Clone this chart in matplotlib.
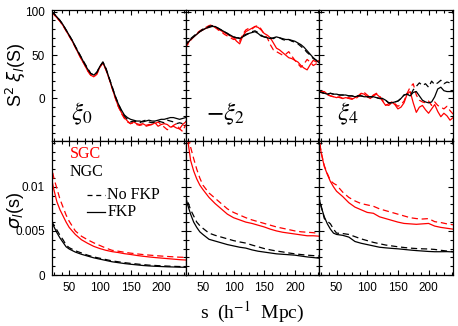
import matplotlib.pyplot as plt
from matplotlib.ticker import MultipleLocator

plt.rcParams['font.family'] = ['Liberation Sans', 'DejaVu Sans']

# separation grid for the multipoles (h^-1 Mpc)
s_top = [20, 25, 30, 35, 40, 45, 50, 55, 60, 65, 70, 75, 80, 85, 90, 95, 100,
         105, 110, 115, 120, 125, 130, 135, 140, 145, 150, 155, 160, 165, 170,
         175, 180, 185, 190, 195, 200, 205, 210, 215, 220, 225, 230, 235, 240]

# s^2 xi_0
xi0_ngc_fkp = [100, 98, 94, 90, 85, 79, 73, 67, 60, 53, 47, 40, 34, 29, 27, 30, 37,
               42, 34, 24, 13, 3, -6, -13, -19, -22, -24, -25, -26, -26, -27,
               -26, -25, -26, -26, -25, -24, -24, -23, -22, -22, -23, -24, -23, -22]
xi0_ngc_nofkp = [100, 98, 94, 90, 85, 79, 73, 67, 60, 54, 47, 41, 35, 29, 27, 30, 37,
                 42, 35, 24, 14, 3, -6, -14, -20, -24, -27, -26, -27, -28, -26,
                 -25, -27, -28, -27, -26, -27, -28, -25, -26, -27, -29, -28, -29, -26]
xi0_sgc_fkp = [100, 97, 93, 89, 84, 78, 72, 66, 59, 52, 45, 39, 32, 27, 25, 28, 36,
               41, 33, 23, 12, 1, -9, -16, -22, -26, -29, -27, -29, -30, -29,
               -31, -30, -30, -28, -32, -30, -29, -30, -33, -32, -34, -35, -30, -27]
xi0_sgc_nofkp = [100, 97, 93, 89, 84, 78, 72, 66, 59, 52, 45, 39, 32, 27, 25, 28, 36,
                 41, 33, 23, 12, 1, -9, -17, -23, -27, -29, -28, -30, -31, -30,
                 -32, -31, -30, -29, -27, -30, -33, -36, -34, -31, -29, -35, -38, -30]

# -s^2 xi_2
xi2_ngc_fkp = [60, 64, 68, 71, 74, 77, 79, 81, 82, 83, 83, 81, 79, 77, 75, 73, 71,
               70, 69, 71, 73, 75, 76, 77, 75, 72, 71, 70, 69, 70, 71,
               70, 69, 68, 68, 67, 66, 64, 62, 59, 55, 51, 47, 44, 41]
xi2_ngc_nofkp = [60, 65, 69, 72, 75, 77, 80, 81, 83, 84, 83, 81, 79, 77, 75, 72, 71,
                 70, 70, 72, 74, 75, 77, 78, 76, 73, 71, 70, 70, 69, 71,
                 70, 68, 67, 68, 66, 65, 63, 60, 57, 53, 50, 46, 44, 40]
xi2_sgc_fkp = [58, 63, 68, 71, 74, 77, 79, 81, 82, 84, 82, 80, 78, 76, 74, 72, 70,
               66, 63, 72, 77, 79, 81, 83, 82, 79, 75, 73, 70, 64, 58,
               56, 53, 50, 47, 46, 44, 42, 38, 35, 33, 39, 44, 42, 44]
xi2_sgc_nofkp = [58, 62, 67, 71, 75, 78, 80, 82, 84, 85, 82, 79, 77, 74, 72, 70, 68,
                 69, 66, 74, 79, 81, 80, 83, 84, 80, 74, 70, 62, 56, 54,
                 52, 50, 51, 54, 49, 44, 40, 36, 40, 45, 42, 38, 40, 43]

# s^2 xi_4
xi4_ngc_fkp = [8, 7, 6, 5, 6, 5, 5, 4, 4, 4, 3, 3, 2, 3, 3, 2, 2,
               2, 2, 1, 0, 0, -2, -5, -5, -4, -3, 0, 4, 5, 3,
               7, 8, 3, -2, -4, -5, -4, 2, 11, 13, 9, 8, 8, 8]
xi4_ngc_nofkp = [8, 7, 6, 5, 6, 5, 5, 4, 4, 4, 3, 3, 2, 3, 3, 2, 2,
                 2, 2, 1, 0, 0, -2, -5, -5, -4, -3, 0, 4, 5, 3,
                 10, 14, 18, 15, 17, 13, 20, 16, 18, 21, 17, 19, 18, 19]
xi4_sgc_fkp = [7, 8, 8, 5, 3, 2, 1, 2, 0, 1, 0, -1, 1, 3, 6, 5, 2,
               0, 3, 5, 2, -3, -8, -6, -4, -7, -12, -10, -5, 5, 8,
               -5, -16, -10, -8, -13, -17, -12, -7, -15, -21, -17, -20, -25, -22]
xi4_sgc_nofkp = [7, 7, 6, 4, 3, 2, 2, 1, 0, 0, 1, 0, -1, 2, 5, 7, 4,
                 1, 4, 6, 3, -2, -7, -8, -5, -6, -9, -7, -3, 6, 13,
                 17, 4, -2, -4, -5, -3, -8, -4, -8, -10, -12, -9, -14, -18]

# errors sigma_l(s), in units of 1e-3
s_bot = [20, 25, 30, 35, 40, 45, 50, 60, 70, 80, 90, 100, 110, 120, 130,
         140, 150, 160, 170, 180, 190, 200, 210, 220, 230, 240]

sig0_sgc_fkp = [11.4, 9.7, 8.3, 7.4, 6.7, 6.0, 5.4, 4.6, 4.0, 3.6, 3.25, 3.0, 2.8,
                2.65, 2.55, 2.42, 2.33, 2.22, 2.13, 2.05, 1.98, 1.92, 1.86, 1.8, 1.74, 1.7]
sig0_sgc_nofkp = [12.7, 11.0, 9.8, 8.6, 7.7, 6.8, 6.1, 5.0, 4.4, 4.0, 3.65, 3.35, 3.05,
                  2.8, 2.7, 2.58, 2.48, 2.4, 2.32, 2.26, 2.2, 2.15, 2.1, 2.06, 2.02, 2.0]
sig0_ngc_fkp = [6.25, 5.5, 4.8, 4.2, 3.7, 3.2, 2.95, 2.6, 2.35, 2.15, 1.95, 1.8, 1.65,
                1.5, 1.4, 1.3, 1.22, 1.15, 1.08, 1.03, 0.99, 0.96, 0.93, 0.91, 0.89, 0.87]
sig0_ngc_nofkp = [6.1, 5.7, 5.1, 4.5, 4.0, 3.4, 3.1, 2.75, 2.5, 2.25, 2.05, 1.9, 1.75,
                  1.6, 1.5, 1.4, 1.32, 1.25, 1.18, 1.12, 1.08, 1.04, 1.01, 0.98, 0.96, 0.94]

sig2_sgc_fkp = [18.5, 15.5, 13.0, 11.8, 10.9, 10.2, 9.7, 8.8, 8.1, 7.5, 6.9, 6.5, 6.25,
                6.0, 5.85, 5.65, 5.45, 5.2, 5.0, 4.85, 4.75, 4.65, 4.55, 4.45, 4.45, 4.4]
sig2_sgc_nofkp = [19.0, 16.5, 14.5, 13.2, 12.0, 11.0, 10.2, 9.3, 8.7, 8.1, 7.5, 7.1, 6.8,
                  6.5, 6.25, 6.05, 5.85, 5.65, 5.45, 5.3, 5.15, 5.0, 4.9, 4.85, 4.8, 4.7]
sig2_ngc_fkp = [9.5, 8.0, 6.9, 6.0, 5.4, 4.9, 4.6, 4.05, 3.85, 3.65, 3.45, 3.3, 3.15,
                3.05, 2.85, 2.7, 2.6, 2.5, 2.4, 2.35, 2.3, 2.25, 2.15, 2.05, 1.98, 1.9]
sig2_ngc_nofkp = [9.3, 8.4, 7.4, 6.7, 6.0, 5.6, 5.3, 4.75, 4.5, 4.3, 4.1, 3.9, 3.75,
                  3.62, 3.4, 3.2, 3.0, 2.85, 2.72, 2.62, 2.5, 2.4, 2.32, 2.25, 2.2, 2.15]

sig4_sgc_fkp = [16.0, 13.8, 12.3, 11.4, 10.6, 10.0, 9.5, 8.9, 8.2, 7.7, 7.4, 7.1, 7.0,
                6.6, 6.4, 6.2, 6.0, 5.85, 5.8, 5.75, 5.8, 5.85, 5.55, 5.4, 5.3, 5.2]
sig4_sgc_nofkp = [16.0, 13.9, 12.4, 11.5, 10.7, 10.4, 10.2, 9.4, 8.8, 8.4, 8.1, 7.95, 7.8,
                  7.5, 7.3, 7.1, 6.9, 6.7, 6.5, 6.4, 6.35, 6.4, 6.05, 5.95, 5.8, 5.7]
sig4_ngc_fkp = [9.1, 7.7, 6.6, 5.8, 5.2, 4.75, 4.6, 4.5, 4.3, 3.8, 3.6, 3.45, 3.3,
                3.15, 3.08, 3.02, 2.97, 2.9, 2.83, 2.77, 2.72, 2.67, 2.64, 2.64, 2.65, 2.62]
sig4_ngc_nofkp = [9.1, 7.8, 6.4, 6.1, 5.8, 5.2, 4.75, 4.7, 4.6, 4.35, 4.1, 3.9, 3.7,
                  3.55, 3.4, 3.3, 3.2, 3.12, 3.05, 3.0, 2.97, 2.95, 2.9, 2.8, 2.72, 2.65]

top_sets = [
    (xi0_sgc_fkp, xi0_sgc_nofkp, xi0_ngc_fkp, xi0_ngc_nofkp),
    (xi2_sgc_fkp, xi2_sgc_nofkp, xi2_ngc_fkp, xi2_ngc_nofkp),
    (xi4_sgc_fkp, xi4_sgc_nofkp, xi4_ngc_fkp, xi4_ngc_nofkp),
]
bot_sets = [
    (sig0_sgc_fkp, sig0_sgc_nofkp, sig0_ngc_fkp, sig0_ngc_nofkp),
    (sig2_sgc_fkp, sig2_sgc_nofkp, sig2_ngc_fkp, sig2_ngc_nofkp),
    (sig4_sgc_fkp, sig4_sgc_nofkp, sig4_ngc_fkp, sig4_ngc_nofkp),
]
panel_labels = [r'$\xi_0$', r'$-\xi_2$', r'$\xi_4$']
label_x = [0.14, 0.155, 0.135]

W, H = 458, 326
fig = plt.figure(figsize=(W / 100, H / 100), dpi=100)

lefts = [52, 185.7, 319.4]
pw = 133.7
lw = 0.9


def style(ax):
    ax.tick_params(which='both', direction='in', top=True, right=True,
                   width=0.8, labelsize=8.5, pad=5)
    ax.tick_params(which='major', length=3.8)
    ax.tick_params(which='minor', length=2.4)
    for sp in ax.spines.values():
        sp.set_linewidth(0.9)
    ax.set_xlim(22, 240)
    ax.xaxis.set_major_locator(MultipleLocator(50))
    ax.xaxis.set_minor_locator(MultipleLocator(12.5))


for i in range(3):
    # multipoles
    ax = fig.add_axes((lefts[i] / W, (H - 141) / H, pw / W, 131 / H))
    style(ax)
    sf, snf, nf, nnf = top_sets[i]
    ax.plot(s_top, snf, color='red', lw=lw, ls=(0, (5, 3)))
    ax.plot(s_top, sf, color='red', lw=lw)
    ax.plot(s_top, nnf, color='black', lw=lw, ls=(0, (5, 3)))
    ax.plot(s_top, nf, color='black', lw=lw)
    ax.set_ylim(-49, 102)
    ax.set_yticks([0, 50, 100])
    ax.yaxis.set_minor_locator(MultipleLocator(10))
    ax.tick_params(labelbottom=False)
    if i > 0:
        ax.tick_params(labelleft=False)
    ax.text(label_x[i], 0.21, panel_labels[i], transform=ax.transAxes,
            fontsize=18, math_fontfamily='stix', ha='left', va='center')

    # errors
    ax = fig.add_axes((lefts[i] / W, (H - 275) / H, pw / W, 134 / H))
    style(ax)
    sf, snf, nf, nnf = bot_sets[i]
    ax.plot(s_bot, [v * 1e-3 for v in snf], color='red', lw=lw, ls=(0, (5, 3)))
    ax.plot(s_bot, [v * 1e-3 for v in sf], color='red', lw=lw)
    ax.plot(s_bot, [v * 1e-3 for v in nnf], color='black', lw=lw, ls=(0, (5, 3)))
    ax.plot(s_bot, [v * 1e-3 for v in nf], color='black', lw=lw)
    ax.set_ylim(0, 0.0152)
    ax.set_yticks([0, 0.005, 0.01])
    ax.set_yticklabels(['0', '0.005', '0.01'])
    ax.yaxis.set_minor_locator(MultipleLocator(0.001))
    ax.set_xticks([50, 100, 150, 200])
    if i > 0:
        ax.tick_params(labelleft=False)
    if i == 0:
        serif = ['Liberation Serif', 'DejaVu Serif']
        ax.text(0.135, 0.905, 'SGC', color='red', transform=ax.transAxes,
                fontsize=11.5, family=serif, va='center')
        ax.text(0.135, 0.77, 'NGC', color='black', transform=ax.transAxes,
                fontsize=11.5, family=serif, va='center')
        ax.plot([0.26, 0.40], [0.60, 0.60], transform=ax.transAxes,
                color='black', lw=lw, ls=(0, (4, 3)))
        ax.text(0.415, 0.60, 'No FKP', transform=ax.transAxes,
                fontsize=11.5, family=serif, va='center')
        ax.plot([0.26, 0.40], [0.47, 0.47], transform=ax.transAxes,
                color='black', lw=lw)
        ax.text(0.415, 0.47, 'FKP', transform=ax.transAxes,
                fontsize=11.5, family=serif, va='center')

fig.text(16 / W, 1 - 75 / H, r'S$^2$ $\xi_l$(S)', rotation=90, ha='center',
         va='center', fontsize=13, math_fontfamily='dejavusans')
fig.text(16 / W, 1 - 210 / H, r'$\sigma_l$(s)', rotation=90, ha='center',
         va='center', fontsize=13, math_fontfamily='dejavusans')
fig.text(252 / W, 1 - 312 / H, r's  (h$^{-1}$  Mpc)', ha='center', va='center',
         fontsize=14, family=['Liberation Serif', 'DejaVu Serif'],
         math_fontfamily='stix')

fig.savefig('out.png', dpi=100)
